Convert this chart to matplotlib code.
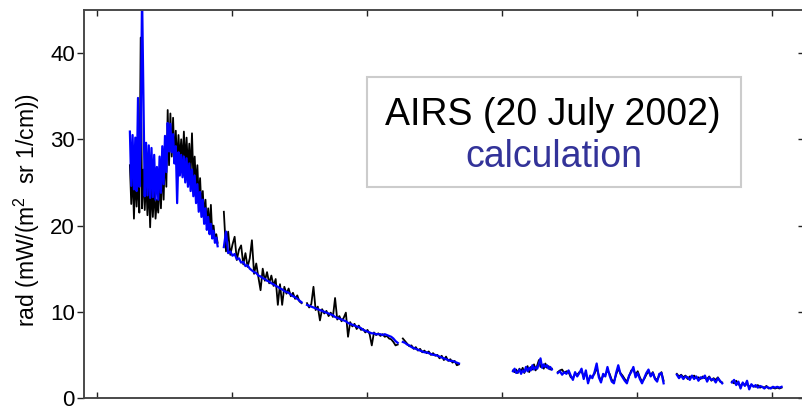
import numpy as np
import matplotlib
matplotlib.use('Agg')
import matplotlib.pyplot as plt
from matplotlib.patches import Rectangle

plt.rcParams['font.family'] = ['Liberation Sans', 'DejaVu Sans']
plt.rcParams['mathtext.fontset'] = 'custom'
plt.rcParams['mathtext.rm'] = 'Liberation Sans'
plt.rcParams['mathtext.it'] = 'Liberation Sans:italic'

# spectrum is stored in segments (gaps between detector modules)
# first channel of each segment and channel step between samples
seg_start = [122, 470, 778, 1133, 1541, 1707, 2148, 2352]
seg_step = [5, 8, 8, 8, 6, 8, 8, 8]

# observed (AIRS) radiance, mW/(m2 sr cm-1)
obs_seg1 = [27.0, 22.5, 26.5, 20.8, 26.0, 22.2, 25.5, 21.5, 41.8, 22.0,
            26.5, 21.8, 25.5, 21.2, 25.0, 19.8, 24.8, 21.0, 24.5, 20.8,
            23.0, 21.5, 25.5, 22.0, 27.0, 23.0, 29.0, 24.5, 33.4, 27.0,
            33.0, 28.0, 32.5, 27.5, 31.0, 27.0, 30.5, 27.5, 30.0, 27.0,
            30.9, 27.0, 30.2, 26.5, 29.5, 26.0, 30.7, 25.5, 28.0, 24.5,
            27.0, 23.0, 25.5, 22.0, 24.0, 21.0, 23.0, 20.0, 22.0, 19.5,
            22.4, 19.0, 20.0, 18.4, 19.0, 18.0]
obs_seg2 = [21.6, 17.0, 19.3, 16.6, 17.8, 18.7, 16.0, 17.2, 17.7, 15.5,
            16.8, 15.2, 16.2, 18.3, 14.4, 15.6, 14.0, 12.5, 15.0, 13.6,
            14.6, 13.3, 14.2, 13.0, 13.8, 10.8, 13.2, 10.8, 12.9, 12.1,
            12.7, 11.8, 12.2, 11.5, 11.9, 11.2, 11.0]
obs_seg3 = [11.0, 10.5, 10.9, 12.9, 10.2, 10.6, 9.0, 10.3, 9.8, 10.1,
            9.5, 9.9, 9.4, 11.6, 9.1, 9.5, 8.9, 9.3, 9.9, 7.1,
            8.8, 8.3, 8.6, 8.0, 8.4, 7.9, 8.0, 7.6, 7.9, 7.4,
            6.1, 7.6, 7.3, 7.5, 7.2, 7.4, 7.1, 7.2, 6.9, 6.8,
            6.5, 6.1, 6.2]
obs_seg4 = [6.9, 6.6, 6.3, 6.0, 6.1, 5.7, 5.9, 5.5, 5.7, 5.3,
            5.5, 5.2, 5.4, 5.0, 5.2, 4.9, 5.0, 4.6, 4.9, 4.4,
            4.8, 4.3, 4.5, 4.1, 4.3, 3.8, 3.9]
obs_seg5 = [3.2, 3.0, 3.3, 2.9, 3.4, 3.1, 3.5, 2.9, 3.4, 3.7,
            3.0, 3.6, 3.3, 3.9, 3.2, 3.8, 4.4, 3.6, 3.7, 3.4,
            4.0, 3.5, 3.7, 3.3, 3.4]
obs_seg6 = [3.0, 3.2, 3.3, 2.9, 3.1, 3.0, 2.4, 2.3, 2.8, 2.7,
            3.0, 3.1, 2.5, 2.9, 2.0, 2.4, 2.5, 2.8, 3.5, 2.6,
            2.0, 2.6, 2.7, 3.2, 2.8, 2.1, 1.9, 2.7, 3.4, 2.9,
            2.6, 2.2, 1.9, 2.5, 3.2, 3.3, 2.7, 3.1, 2.4, 1.9,
            2.2, 2.7, 3.1, 2.6, 3.0, 2.3, 2.1, 2.6, 3.0, 2.0]
obs_seg7 = [2.8, 2.5, 2.7, 2.4, 2.6, 2.2, 2.5, 2.4, 2.6, 2.3,
            2.4, 2.2, 2.5, 2.3, 2.2, 2.5, 2.0, 2.3, 2.1, 2.4,
            1.9, 1.8]
obs_seg8 = [1.9, 1.7, 2.0, 1.6, 1.4, 1.7, 1.5, 1.6, 1.3, 1.5,
            1.4, 1.3, 1.5, 1.2, 1.3, 1.2, 1.4, 1.1, 1.2, 1.2,
            1.1, 1.2, 1.1, 1.2]

# calculated radiance
calc_seg1 = [30.9, 24.6, 30.5, 24.2, 30.2, 24.0, 34.8, 24.5, 29.6, 47.0,
             35.0, 23.4, 29.6, 23.5, 29.3, 23.2, 29.0, 23.3, 28.2, 23.0,
             26.8, 23.0, 28.0, 23.8, 29.2, 24.8, 30.4, 26.2, 31.9, 28.6,
             31.8, 28.5, 30.6, 27.2, 29.2, 22.6, 28.5, 25.8, 28.2, 25.6,
             28.0, 25.0, 27.8, 24.5, 27.2, 24.0, 26.5, 23.4, 25.8, 22.6,
             24.8, 21.6, 23.9, 21.0, 23.0, 20.2, 22.0, 19.5, 21.0, 19.0,
             20.2, 18.5, 19.4, 18.0, 18.6, 17.6]
calc_seg2 = [17.5, 19.3, 16.8, 17.0, 16.5, 16.7, 16.1, 16.2, 15.7, 15.8,
             15.3, 15.4, 15.0, 14.8, 14.6, 14.5, 14.2, 14.1, 13.9, 13.8,
             13.6, 13.5, 13.3, 13.2, 13.0, 12.9, 12.7, 12.6, 12.4, 12.3,
             12.2, 12.0, 11.8, 11.7, 11.5, 11.3, 11.1]
calc_seg3 = [10.8, 10.7, 10.6, 10.5, 10.4, 10.3, 10.2, 10.1, 10.0, 9.9,
             9.8, 9.7, 9.6, 9.4, 9.3, 9.2, 9.1, 9.0, 8.9, 8.7,
             8.6, 8.5, 8.4, 8.3, 8.2, 8.1, 7.9, 7.8, 7.7, 7.6,
             7.5, 7.5, 7.4, 7.4, 7.4, 7.3, 7.4, 7.3, 7.2, 7.1,
             6.9, 6.6, 6.4]
calc_seg4 = [6.5, 6.4, 6.2, 6.1, 5.9, 5.8, 5.7, 5.6, 5.5, 5.4,
             5.3, 5.3, 5.2, 5.1, 5.0, 5.0, 4.9, 4.8, 4.7, 4.6,
             4.5, 4.4, 4.3, 4.3, 4.2, 4.1, 4.0]
calc_seg5 = [3.1, 3.4, 2.9, 3.0, 3.3, 2.8, 3.2, 3.0, 3.6, 3.1,
             3.5, 3.2, 3.8, 3.3, 3.6, 3.4, 4.0, 4.6, 3.5, 3.9,
             3.6, 3.8, 3.4, 3.6, 3.3]
calc_seg6 = [2.9, 3.1, 2.7, 3.0, 2.8, 3.2, 2.6, 2.1, 3.0, 2.5,
             2.9, 3.4, 2.2, 3.2, 1.7, 2.6, 2.3, 3.0, 4.0, 2.4,
             1.8, 2.8, 2.5, 3.6, 2.6, 1.9, 1.7, 2.9, 3.8, 2.8,
             2.4, 2.0, 1.7, 2.6, 3.0, 3.6, 2.4, 2.9, 2.2, 1.7,
             2.3, 2.9, 3.3, 2.5, 2.9, 2.2, 1.9, 2.8, 2.9, 1.7]
calc_seg7 = [2.7, 2.3, 2.6, 2.2, 2.5, 2.4, 2.1, 2.6, 2.2, 2.5,
             2.0, 2.4, 2.3, 2.6, 1.9, 2.4, 2.1, 2.2, 1.8, 2.3,
             2.0, 1.7]
calc_seg8 = [1.8, 2.1, 1.5, 1.9, 1.1, 1.8, 1.4, 2.0, 1.0, 1.6,
             1.3, 1.5, 1.2, 1.4, 1.3, 1.1, 1.3, 1.2, 1.1, 1.3,
             1.2, 1.3, 1.2, 1.3]

obs_segs = [obs_seg1, obs_seg2, obs_seg3, obs_seg4,
            obs_seg5, obs_seg6, obs_seg7, obs_seg8]
calc_segs = [calc_seg1, calc_seg2, calc_seg3, calc_seg4,
             calc_seg5, calc_seg6, calc_seg7, calc_seg8]


def join_segments(segs):
    xs, ys = [], []
    for s0, ds, vals in zip(seg_start, seg_step, segs):
        xs.extend(s0 + ds * np.arange(len(vals)))
        ys.extend(vals)
        xs.append(np.nan)  # break the line between segments
        ys.append(np.nan)
    return np.array(xs, dtype=float), np.array(ys, dtype=float)


x_obs, y_obs = join_segments(obs_segs)
x_calc, y_calc = join_segments(calc_segs)

fig = plt.figure(figsize=(8.02, 4.09), dpi=100, facecolor='w')
ax = fig.add_axes([84 / 802, 11 / 409, 720 / 802, 388 / 409])

ax.plot(x_obs, y_obs, color='black', lw=1.3, zorder=2)
ax.plot(x_calc, y_calc, color='#0000ff', lw=1.6, zorder=2.5)

ax.set_xlim(-48, 2619)
ax.set_ylim(0, 45)
ax.set_xticks([0, 500, 1000, 1500, 2000, 2500])
ax.set_yticks([0, 10, 20, 30, 40])
ax.set_xticklabels([])
ax.tick_params(axis='x', direction='in', top=True, length=4.5, width=1,
               color='#222222')
ax.tick_params(axis='y', direction='out', right=False, length=5, width=1,
               color='#222222', labelsize=16, pad=1.5)

# right-hand ticks point inward, left ones outward
ax_r = ax.twinx()
ax_r.set_ylim(0, 45)
ax_r.set_yticks([0, 10, 20, 30, 40])
ax_r.tick_params(direction='in', length=4.5, width=1, color='#222222',
                 labelright=False)

for a in (ax, ax_r):
    for sp in a.spines.values():
        sp.set_color('#444444')
        sp.set_linewidth(1.1)

ax.set_ylabel('rad (mW/(m$^2$  sr 1/cm))', fontsize=16.5)
ax.yaxis.set_label_coords(-0.0583, 0.4845)

# annotation box
ax.add_patch(Rectangle((0.393, 0.544), 0.5195, 0.283, transform=ax.transAxes,
                       facecolor='white', edgecolor='#cccccc', lw=1.5, zorder=3))
ax.text(0.651, 0.7036, 'AIRS (20 July 2002)', transform=ax.transAxes,
        ha='center', va='baseline', fontsize=27, color='black', zorder=4)
ax.text(0.652, 0.596, 'calculation', transform=ax.transAxes,
        ha='center', va='baseline', fontsize=27, color='#333399', zorder=4)

plt.savefig('out.png', dpi=100)
